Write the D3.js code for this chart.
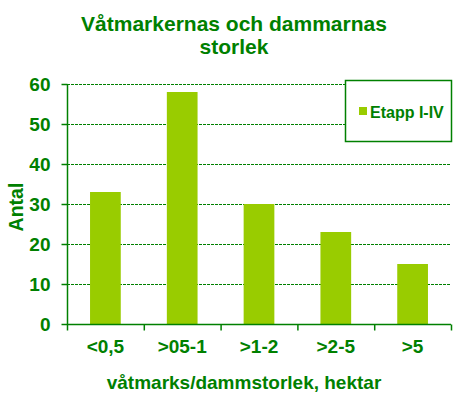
<!DOCTYPE html>
<html>
<head>
<meta charset="utf-8">
<script src="https://cdn.jsdelivr.net/npm/d3@7"></script>
<style>
  body { margin: 0; background: #fff; }
  text { font-family: "Liberation Sans", Arial, sans-serif; font-weight: bold; fill: #008000; }
</style>
</head>
<body>
<div id="chart"></div>
<script>
// data
const categories = ["<0,5", ">05-1", ">1-2", ">2-5", ">5"];
const values = [33, 58, 30, 23, 15];
const yTicks = [0, 10, 20, 30, 40, 50, 60];
const seriesName = "Etapp I-IV";

const width = 468, height = 397;
const margin = {top: 84, right: 17, bottom: 73, left: 67};
const green = "#008000", barColor = "#99cc00";

let svg = d3.select("#chart").append("svg")
    .attr("width", width)
    .attr("height", height);

let x = d3.scaleBand()
    .domain(categories)
    .range([margin.left, width - margin.right])
    .paddingInner(0.6)
    .paddingOuter(0.3);

let y = d3.scaleLinear()
    .domain([0, 60])
    .range([height - margin.bottom, margin.top]);

// dashed gridlines
svg.append("g")
  .selectAll("line")
  .data(yTicks.filter(d => d > 0))
  .enter().append("line")
    .attr("x1", margin.left)
    .attr("x2", width - margin.right)
    .attr("y1", d => y(d) + 0.5)
    .attr("y2", d => y(d) + 0.5)
    .attr("stroke", green)
    .attr("stroke-width", 1)
    .attr("stroke-dasharray", "3,1");

// bars
svg.append("g")
  .selectAll("rect")
  .data(values)
  .enter().append("rect")
    .attr("x", (d, i) => x(categories[i]))
    .attr("width", x.bandwidth())
    .attr("y", d => y(d))
    .attr("height", d => y(0) - y(d))
    .attr("fill", barColor);

// y axis
let yAxis = svg.append("g")
    .attr("transform", "translate(" + (margin.left + 0.5) + ",0)")
    .call(d3.axisLeft(y).tickValues(yTicks).tickSize(6).tickPadding(11));
yAxis.selectAll("path, line").attr("stroke", green).attr("stroke-width", 1.5);
yAxis.select(".domain").attr("d", "M0," + y(0) + "V" + y(60));
yAxis.selectAll("text")
    .style("font-size", "19px")
    .attr("fill", green);

// x axis: labels centred, ticks on band boundaries
let xAxis = svg.append("g")
    .attr("transform", "translate(0," + (y(0) + 0.5) + ")")
    .call(d3.axisBottom(x).tickSize(0).tickPadding(15));
xAxis.select(".domain").attr("d", "M" + margin.left + ",0H" + (width - margin.right))
    .attr("stroke", green).attr("stroke-width", 1.5);
xAxis.selectAll("text")
    .style("font-size", "19px")
    .attr("fill", green);

let step = x.step();
let bounds = d3.range(categories.length + 1).map(i => margin.left + i * step);
xAxis.selectAll(".bound")
  .data(bounds)
  .enter().append("line")
    .attr("class", "bound")
    .attr("x1", d => d + 0.5)
    .attr("x2", d => d + 0.5)
    .attr("y1", 0)
    .attr("y2", 6)
    .attr("stroke", green)
    .attr("stroke-width", 1.5);

// title
let title = svg.append("text")
    .attr("text-anchor", "middle")
    .style("font-size", "21px");
title.append("tspan").attr("x", 234).attr("y", 31).text("Våtmarkernas och dammarnas");
title.append("tspan").attr("x", 234).attr("y", 54).text("storlek");

// axis titles
svg.append("text")
    .attr("text-anchor", "middle")
    .attr("x", 244)
    .attr("y", 389)
    .style("font-size", "19px")
    .text("våtmarks/dammstorlek, hektar");

svg.append("text")
    .attr("text-anchor", "middle")
    .attr("transform", "translate(23,207) rotate(-90)")
    .style("font-size", "19.5px")
    .text("Antal");

// legend
let legend = svg.append("g");
legend.append("rect")
    .attr("x", 345.5)
    .attr("y", 80.5)
    .attr("width", 106)
    .attr("height", 61)
    .attr("fill", "#fff")
    .attr("stroke", green)
    .attr("stroke-width", 1.5);
legend.append("rect")
    .attr("x", 359)
    .attr("y", 107)
    .attr("width", 8)
    .attr("height", 8)
    .attr("fill", barColor);
legend.append("text")
    .attr("x", 370)
    .attr("y", 118)
    .style("font-size", "16px")
    .text(seriesName);
</script>
</body>
</html>
